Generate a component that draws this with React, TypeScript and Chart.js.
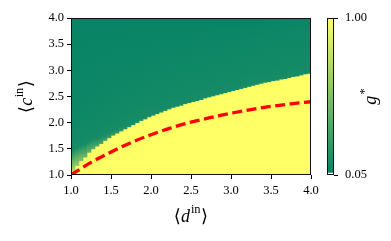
import React, { useEffect, useRef } from 'react';
import { Chart, registerables } from 'chart.js';
Chart.register(...registerables);

// column centres of the g* map along <d_in>
const dCenters = [
  1.025, 1.075, 1.125, 1.175, 1.225, 1.275, 1.325, 1.375, 1.425, 1.475,
  1.525, 1.575, 1.625, 1.675, 1.725, 1.775, 1.825, 1.875, 1.925, 1.975,
  2.025, 2.075, 2.125, 2.175, 2.225, 2.275, 2.325, 2.375, 2.425, 2.475,
  2.525, 2.575, 2.625, 2.675, 2.725, 2.775, 2.825, 2.875, 2.925, 2.975,
  3.025, 3.075, 3.125, 3.175, 3.225, 3.275, 3.325, 3.375, 3.425, 3.475,
  3.525, 3.575, 3.625, 3.675, 3.725, 3.775, 3.825, 3.875, 3.925, 3.975,
];
// <c_in> where g* switches from 1 (below) to low values (above)
const boundaryC = [
  1.07, 1.18, 1.27, 1.34, 1.43, 1.50, 1.55, 1.60, 1.66, 1.71,
  1.76, 1.80, 1.84, 1.88, 1.92, 1.96, 2.00, 2.04, 2.07, 2.11,
  2.14, 2.17, 2.20, 2.23, 2.26, 2.29, 2.31, 2.33, 2.36, 2.38,
  2.40, 2.42, 2.44, 2.47, 2.49, 2.51, 2.53, 2.55, 2.57, 2.59,
  2.61, 2.63, 2.65, 2.67, 2.69, 2.71, 2.73, 2.75, 2.77, 2.78,
  2.80, 2.81, 2.83, 2.84, 2.86, 2.88, 2.89, 2.91, 2.93, 2.94,
];
// g* just above the boundary, and the height of that soft edge
const edgeG = [
  0.72, 0.62, 0.54, 0.47, 0.42, 0.38, 0.34, 0.31, 0.28, 0.26,
  0.24, 0.22, 0.21, 0.20, 0.19, 0.18, 0.18, 0.17, 0.17, 0.17,
  0.16, 0.16, 0.16, 0.16, 0.16, 0.16, 0.16, 0.16, 0.16, 0.16,
  0.16, 0.16, 0.16, 0.16, 0.16, 0.16, 0.16, 0.16, 0.16, 0.16,
  0.16, 0.16, 0.16, 0.16, 0.16, 0.16, 0.16, 0.16, 0.16, 0.16,
  0.16, 0.16, 0.16, 0.16, 0.16, 0.16, 0.16, 0.16, 0.16, 0.16,
];
const edgeWidth = [
  0.40, 0.34, 0.29, 0.25, 0.21, 0.18, 0.15, 0.13, 0.11, 0.10,
  0.09, 0.08, 0.07, 0.06, 0.06, 0.05, 0.05, 0.05, 0.05, 0.05,
  0.04, 0.04, 0.04, 0.04, 0.04, 0.04, 0.04, 0.04, 0.04, 0.04,
  0.04, 0.04, 0.04, 0.04, 0.04, 0.04, 0.04, 0.04, 0.04, 0.04,
  0.04, 0.04, 0.04, 0.04, 0.04, 0.04, 0.04, 0.04, 0.04, 0.04,
  0.04, 0.04, 0.04, 0.04, 0.04, 0.04, 0.04, 0.04, 0.04, 0.04,
];
const highG = 1.0;
const tealNearG = 0.13;
const tealMidG = 0.10;
const tealTopG = 0.08;

// red dashed curve
const curveD = [1.0, 1.25, 1.5, 1.75, 2.0, 2.25, 2.5, 2.75, 3.0, 3.25, 3.5, 3.75, 4.0];
const curveC = [1.0, 1.24, 1.44, 1.62, 1.77, 1.90, 2.01, 2.10, 2.18, 2.25, 2.31, 2.36, 2.40];

const axisTicks = [1.0, 1.5, 2.0, 2.5, 3.0, 3.5, 4.0];
const cbTicks = [0.05, 1.0];
const G_MIN = 0.05;
const G_MAX = 1.0;
const cbFillStart = 0.065;

const SERIF = "'Liberation Serif', 'DejaVu Serif', serif";

function summer(g: number): string {
  let t = (g - G_MIN) / (G_MAX - G_MIN);
  t = Math.max(0, Math.min(1, t));
  const r = Math.round(255 * t);
  const gg = Math.round(128 + 127 * t);
  return `rgb(${r},${gg},102)`;
}

type Part = { text: string; font: string; dy?: number; dx?: number };

function drawParts(ctx: CanvasRenderingContext2D, parts: Part[], cx: number, cy: number, rotate: boolean) {
  ctx.save();
  ctx.translate(cx, cy);
  if (rotate) ctx.rotate(-Math.PI / 2);
  ctx.fillStyle = '#000';
  ctx.textBaseline = 'alphabetic';
  ctx.textAlign = 'left';
  const widths = parts.map((p) => {
    ctx.font = p.font;
    return ctx.measureText(p.text).width + (p.dx || 0);
  });
  const total = widths.reduce((a, b) => a + b, 0);
  let x = -total / 2;
  parts.forEach((p, i) => {
    ctx.font = p.font;
    ctx.fillText(p.text, x + (p.dx || 0), p.dy || 0);
    x += widths[i];
  });
  ctx.restore();
}

const framePlugin = {
  id: 'frame',
  afterDatasetsDraw(chart: any) {
    const { ctx, chartArea } = chart;
    ctx.save();
    ctx.strokeStyle = '#111';
    ctx.lineWidth = 1;
    const l = Math.round(chartArea.left) + 0.5;
    const t = Math.round(chartArea.top) + 0.5;
    const r = Math.round(chartArea.right) - 0.5;
    const b = Math.round(chartArea.bottom) - 0.5;
    ctx.strokeRect(l, t, r - l, b - t);
    ctx.restore();
  },
};

const mainTitles = {
  id: 'mainTitles',
  afterDraw(chart: any) {
    const { ctx, chartArea } = chart;
    const cx = (chartArea.left + chartArea.right) / 2;
    const cy = (chartArea.top + chartArea.bottom) / 2;
    const big = `18px ${SERIF}`;
    const it = `italic 18px ${SERIF}`;
    const sup = `12.5px ${SERIF}`;
    drawParts(
      ctx,
      [
        { text: '⟨', font: big },
        { text: 'd', font: it },
        { text: 'in', font: sup, dy: -9, dx: 1 },
        { text: '⟩', font: big, dx: 0.5 },
      ],
      cx,
      chartArea.bottom + 47,
      false
    );
    drawParts(
      ctx,
      [
        { text: '⟨', font: big },
        { text: 'c', font: it },
        { text: 'in', font: sup, dy: -9, dx: 0.5 },
        { text: '⟩', font: big, dx: 0.5 },
      ],
      chartArea.left - 39,
      cy,
      true
    );
  },
};

const cbTitle = {
  id: 'cbTitle',
  afterDraw(chart: any) {
    const { ctx, chartArea } = chart;
    const cy = (chartArea.top + chartArea.bottom) / 2;
    drawParts(
      ctx,
      [
        { text: 'g', font: `italic 18px ${SERIF}` },
        { text: '*', font: `13px ${SERIF}`, dy: -8, dx: 1 },
      ],
      chartArea.right + 42,
      cy,
      true
    );
  },
};

export default function App() {
  const mainRef = useRef<HTMLCanvasElement | null>(null);
  const cbRef = useRef<HTMLCanvasElement | null>(null);

  useEffect(() => {
    document.body.style.margin = '0';
    const tickFont = { family: SERIF, size: 12.5 };
    const gridOpts = {
      display: true,
      drawOnChartArea: false,
      drawTicks: true,
      tickLength: 4,
      color: '#000',
      lineWidth: 1,
      offset: false,
    };

    const tealColor = (c: any) => {
      const chart = c.chart;
      const area = chart.chartArea;
      const i = c.dataIndex;
      if (!area || i === undefined || !chart.scales?.y) return summer(tealMidG);
      const ys = chart.scales.y;
      const yb = ys.getPixelForValue(boundaryC[i]);
      const top = area.top;
      const span = Math.max(1, yb - top);
      const ye = yb - ys.getPixelForValue(boundaryC[i] + edgeWidth[i]);
      const ym = yb - ys.getPixelForValue(boundaryC[i] + 0.9);
      const grad = chart.ctx.createLinearGradient(0, yb, 0, top);
      grad.addColorStop(0, summer(edgeG[i]));
      grad.addColorStop(Math.min(0.98, ye / span), summer(tealNearG));
      grad.addColorStop(Math.min(0.99, Math.max(ye / span + 0.005, ym / span)), summer(tealMidG));
      grad.addColorStop(1, summer(tealTopG));
      return grad;
    };

    const main = new Chart(mainRef.current as HTMLCanvasElement, {
      type: 'bar',
      data: {
        datasets: [
          {
            type: 'line',
            label: 'curve',
            data: curveD.map((d, i) => ({ x: d, y: curveC[i] })),
            borderColor: '#ff0000',
            borderWidth: 3.3,
            borderDash: [10, 4.5],
            pointRadius: 0,
            cubicInterpolationMode: 'monotone',
            fill: false,
            order: 0,
          } as any,
          {
            type: 'bar',
            label: 'high',
            data: dCenters.map((d, i) => ({ x: d, y: [1, boundaryC[i]] })),
            backgroundColor: summer(highG),
            borderWidth: 0,
            grouped: false,
            barPercentage: 1,
            categoryPercentage: 1,
            order: 2,
          } as any,
          {
            type: 'bar',
            label: 'low',
            data: dCenters.map((d, i) => ({ x: d, y: [boundaryC[i], 4] })),
            backgroundColor: tealColor,
            borderWidth: 0,
            grouped: false,
            barPercentage: 1,
            categoryPercentage: 1,
            order: 1,
          } as any,
        ],
      },
      options: {
        responsive: false,
        animation: false,
        devicePixelRatio: 1,
        layout: { padding: { top: 18, right: 80, left: 0, bottom: 0 } },
        plugins: { legend: { display: false }, tooltip: { enabled: false } },
        scales: {
          x: {
            type: 'linear',
            min: 1,
            max: 4,
            offset: false,
            grid: gridOpts,
            border: { display: false },
            afterBuildTicks: (s: any) => {
              s.ticks = axisTicks.map((v) => ({ value: v }));
            },
            afterFit: (s: any) => {
              s.height = 66;
            },
            ticks: {
              font: tickFont,
              color: '#000',
              padding: 4,
              maxRotation: 0,
              callback: (v: any) => Number(v).toFixed(1),
            },
          },
          y: {
            type: 'linear',
            min: 1,
            max: 4,
            beginAtZero: false,
            grid: gridOpts,
            border: { display: false },
            afterBuildTicks: (s: any) => {
              s.ticks = axisTicks.map((v) => ({ value: v }));
            },
            afterFit: (s: any) => {
              s.width = 71;
            },
            ticks: {
              font: tickFont,
              color: '#000',
              padding: 3,
              callback: (v: any) => Number(v).toFixed(1),
            },
          },
        },
      } as any,
      plugins: [framePlugin, mainTitles],
    });

    const cbColor = (c: any) => {
      const chart = c.chart;
      const area = chart.chartArea;
      if (!area || !chart.scales?.y) return summer(0.5);
      const ys = chart.scales.y;
      const grad = chart.ctx.createLinearGradient(0, ys.getPixelForValue(G_MIN), 0, ys.getPixelForValue(G_MAX));
      grad.addColorStop(0, summer(G_MIN));
      grad.addColorStop(1, summer(G_MAX));
      return grad;
    };

    const cb = new Chart(cbRef.current as HTMLCanvasElement, {
      type: 'bar',
      data: {
        labels: ['g*'],
        datasets: [
          {
            data: [[cbFillStart, G_MAX]],
            backgroundColor: cbColor,
            borderWidth: 0,
            barPercentage: 1,
            categoryPercentage: 1,
          } as any,
        ],
      },
      options: {
        responsive: false,
        animation: false,
        devicePixelRatio: 1,
        layout: { padding: { top: 18, bottom: 66, left: 0, right: 0 } },
        plugins: { legend: { display: false }, tooltip: { enabled: false } },
        scales: {
          x: { display: false },
          y: {
            position: 'right',
            min: G_MIN,
            max: G_MAX,
            beginAtZero: false,
            grid: gridOpts,
            border: { display: false },
            afterBuildTicks: (s: any) => {
              s.ticks = cbTicks.map((v) => ({ value: v }));
            },
            afterFit: (s: any) => {
              s.width = 57;
            },
            ticks: {
              font: tickFont,
              color: '#000',
              padding: 7,
              callback: (v: any) => Number(v).toFixed(2),
            },
          },
        },
      } as any,
      plugins: [framePlugin, cbTitle],
    });

    return () => {
      main.destroy();
      cb.destroy();
    };
  }, []);

  return (
    <div style={{ position: 'relative', width: 391, height: 241, background: '#fff' }}>
      <canvas ref={mainRef} width={391} height={241} style={{ position: 'absolute', left: 0, top: 0, display: 'block' }} />
      <canvas ref={cbRef} width={64} height={241} style={{ position: 'absolute', left: 327, top: 0, display: 'block' }} />
    </div>
  );
}
